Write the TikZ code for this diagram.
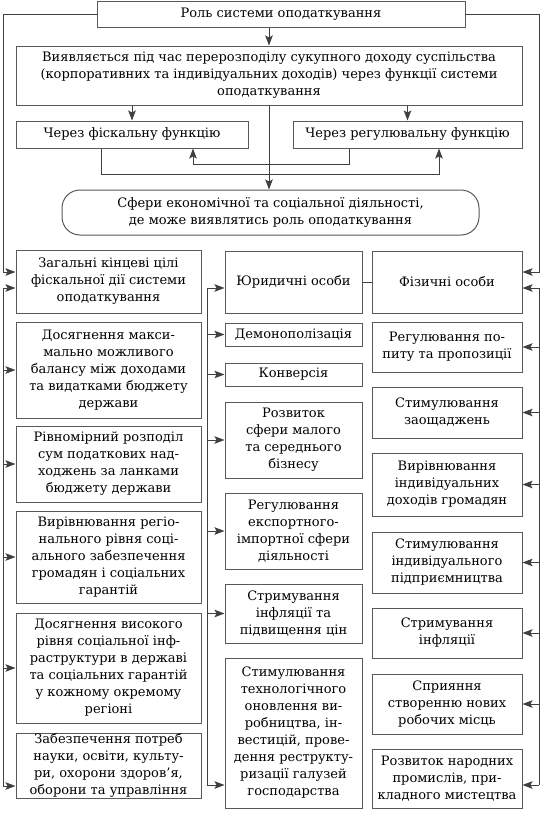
\documentclass[tikz,border=0pt]{standalone}
\usepackage{fontspec}
\setmainfont{DejaVu Serif}
\usetikzlibrary{arrows.meta}
\begin{document}
\begin{tikzpicture}[x=1pt,y=-1pt,
  box/.style={draw=black!65, line width=1pt, align=center, inner sep=0pt,
    text=black, font=\fontsize{13}{17}\selectfont},
  wire/.style={draw=black!75, line width=1pt},
  arr/.style={wire, -{Stealth[length=10pt,width=7.5pt,inset=2pt]}}]
\useasboundingbox[fill=white] (0,0) rectangle (542,814);
% top part
\node[box, minimum width=368pt, minimum height=26pt] (top) at (281,14) {Роль системи оподаткування};
\node[box, minimum width=506pt, minimum height=59pt] (b2) at (269,75.5)
  {Виявляється під час перерозподілу сукупного доходу суспільства\\(корпоративних та індивідуальних доходів) через функції системи\\оподаткування};
\node[box, minimum width=232pt, minimum height=27pt] (fisc) at (132,134.5) {Через фіскальну функцію};
\node[box, minimum width=229pt, minimum height=27pt] (reg) at (407.5,134.5) {Через регулювальну функцію};
\node[box, rounded corners=18pt, minimum width=417pt, minimum height=45pt] (oval) at (270.5,212.5)
  {Сфери економічної та соціальної діяльності,\\де може виявлятись роль оподаткування};
% left column
\node[box, minimum width=185pt, minimum height=63pt] (L1) at (108.5,281.5) {Загальні кінцеві цілі\\фіскальної дії системи\\оподаткування};
\node[box, minimum width=185pt, minimum height=96pt] (L2) at (108.5,370) {Досягнення макси-\\мально можливого\\балансу між доходами\\та видатками бюджету\\держави};
\node[box, minimum width=185pt, minimum height=76pt] (L3) at (108.5,464) {Рівномірний розподіл\\сум податкових над-\\ходжень за ланками\\бюджету держави};
\node[box, minimum width=185pt, minimum height=92pt] (L4) at (108.5,557) {Вирівнювання регіо-\\нального рівня соці-\\ального забезпечення\\громадян і соціальних\\гарантій};
\node[box, minimum width=185pt, minimum height=110pt] (L5) at (108.5,668) {Досягнення високого\\рівня соціальної інф-\\раструктури в державі\\та соціальних гарантій\\у кожному окремому\\регіоні};
\node[box, minimum width=185pt, minimum height=65pt] (L6) at (108.5,765.5) {Забезпечення потреб\\науки, освіти, культу-\\ри, охорони здоров’я,\\оборони та управління};
% middle column
\node[box, minimum width=137pt, minimum height=62pt] (M1) at (293.5,282) {Юридичні особи};
\node[box, minimum width=137pt, minimum height=23pt] (M2) at (293.5,334.5) {Демонополізація};
\node[box, minimum width=137pt, minimum height=23pt] (M3) at (293.5,374.5) {Конверсія};
\node[box, minimum width=137pt, minimum height=76pt] (M4) at (293.5,440) {Розвиток\\сфери малого\\та середнього\\бізнесу};
\node[box, minimum width=137pt, minimum height=76pt] (M5) at (293.5,531) {Регулювання\\експортного-\\імпортної сфери\\діяльності};
\node[box, minimum width=137pt, minimum height=59pt] (M6) at (293.5,613.5) {Стримування\\інфляції та\\підвищення цін};
\node[box, minimum width=137pt, minimum height=150pt] (M7) at (293.5,733) {Стимулювання\\технологічного\\оновлення ви-\\робництва, ін-\\вестицій, прове-\\дення реструкту-\\ризації галузей\\господарства};
% right column
\node[box, minimum width=150pt, minimum height=62pt] (R1) at (447,282) {Фізичні особи};
\node[box, minimum width=150pt, minimum height=50pt] (R2) at (447,347) {Регулювання по-\\питу та пропозиції};
\node[box, minimum width=150pt, minimum height=51pt] (R3) at (447,412.5) {Стимулювання\\заощаджень};
\node[box, minimum width=150pt, minimum height=63pt] (R4) at (447,484.5) {Вирівнювання\\індивідуальних\\доходів громадян};
\node[box, minimum width=150pt, minimum height=61pt] (R5) at (447,562.5) {Стимулювання\\індивідуального\\підприємництва};
\node[box, minimum width=150pt, minimum height=50pt] (R6) at (447,633) {Стримування\\інфляції};
\node[box, minimum width=150pt, minimum height=60pt] (R7) at (447,704) {Сприяння\\створенню нових\\робочих місць};
\node[box, minimum width=150pt, minimum height=59pt] (R8) at (447,778.5) {Розвиток народних\\промислів, при-\\кладного мистецтва};
% coordinates
\coordinate (lA) at (3,272);
\coordinate (rA) at (539,272);
\coordinate (lB) at (3,288);
\coordinate (lE) at (3,786);
\coordinate (mB) at (207,288);
\coordinate (mE) at (207,785);
\coordinate (rB) at (539,288);
\coordinate (rE) at (539,785);
\coordinate (c1) at (101,174);
\coordinate (c2) at (439,174);
\coordinate (c3) at (349,164);
\coordinate (c4) at (193,164);
% top connectors
\draw[arr] (top.west) -| (lA) -- (lA -| L1.west);
\draw[arr] (top.east) -| (rA) -- (rA -| R1.east);
\draw[arr] (top.south -| b2.north) -- (b2.north);
\draw[arr] (b2.south -| fisc.north) -- (fisc.north);
\draw[arr] (b2.south -| reg.north) -- (reg.north);
\draw[arr] (fisc.south -| c1) -- (c1) -- (c2) -- (c2 |- reg.south);
\draw[arr] (reg.south -| c3) -- (c3) -- (c4) -- (c4 |- fisc.south);
\draw[arr] (b2.south) -- (b2.south |- oval.north);
% left trunk
\draw[wire] (lB) -- (lE);
\draw[arr] (lB) -- (lB -| L1.west);
\foreach \n in {L2,L3,L4,L5} \draw[arr] (lB |- \n.west) -- (\n.west);
\draw[arr] (lE) -- (lE -| L6.west);
% middle trunk
\draw[wire] (mB) -- (mE);
\draw[arr] (mB) -- (mB -| M1.west);
\foreach \n in {M2,M3,M4,M5,M6} \draw[arr] (mB |- \n.west) -- (\n.west);
\draw[arr] (mE) -- (mE -| M7.west);
% right trunk
\draw[wire] (rB) -- (rE);
\draw[arr] (rB) -- (rB -| R1.east);
\foreach \n in {R2,R3,R4,R5,R6,R7} \draw[arr] (rB |- \n.east) -- (\n.east);
\draw[arr] (rE) -- (rE -| R8.east);
% link
\draw[wire] (M1.east) -- (R1.west);
\end{tikzpicture}
\end{document}
